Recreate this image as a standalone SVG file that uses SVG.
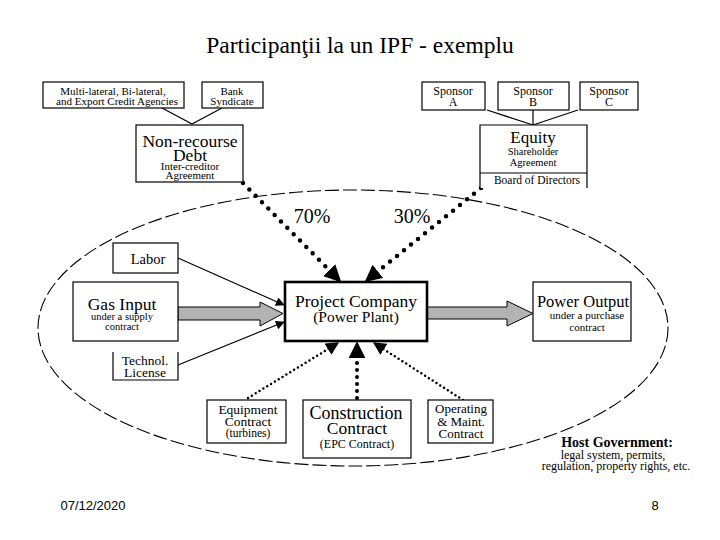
<svg xmlns="http://www.w3.org/2000/svg" width="720" height="540" viewBox="0 0 720 540">
<style>
text{font-family:"Liberation Serif","Times New Roman",serif;fill:#000;text-anchor:middle}
.box{fill:#fff;stroke:#000;stroke-width:1.2}
.thick{fill:#fff;stroke:#000;stroke-width:2.6}
.ln{fill:none;stroke:#000;stroke-width:1.2}
.dotbig{fill:none;stroke:#000;stroke-width:4.5;stroke-linecap:round;stroke-dasharray:0 9}
.dotmid{fill:none;stroke:#000;stroke-width:4;stroke-linecap:round;stroke-dasharray:0 7}
.dotsm{fill:none;stroke:#000;stroke-width:2.5;stroke-linecap:round;stroke-dasharray:0 4.5}
.fat{fill:#b3b3b3;stroke:#000;stroke-width:1}
.big{font-size:17.5px}
.sm{font-size:11px}
.foot{font-family:"Liberation Sans",Arial,sans-serif;font-size:13px}
</style>
<defs>
<marker id="hBig" viewBox="0 0 10 10" refX="9" refY="5" markerWidth="17" markerHeight="17" markerUnits="userSpaceOnUse" orient="auto"><path d="M0,0 L10,5 L0,10 z" fill="#000"/></marker>
<marker id="hMid" viewBox="0 0 10 10" refX="9" refY="5" markerWidth="13" markerHeight="13" markerUnits="userSpaceOnUse" orient="auto"><path d="M0,0 L10,5 L0,10 z" fill="#000"/></marker>
<marker id="hSm" viewBox="0 0 10 10" refX="9" refY="5" markerWidth="10" markerHeight="9" markerUnits="userSpaceOnUse" orient="auto"><path d="M0,0 L10,5 L0,10 z" fill="#000"/></marker>
</defs>
<rect width="720" height="540" fill="#fff"/>
<text x="360" y="53" style="font-size:23.5px">Participanţii la un IPF - exemplu</text>

<g id="host-government">
<ellipse cx="353" cy="328" rx="315" ry="138" fill="none" stroke="#000" stroke-width="1.1" stroke-dasharray="14 4"/>
<text x="617" y="447" style="font-size:14px;font-weight:bold">Host Government:</text>
<text x="613" y="459" style="font-size:12px">legal system, permits,</text>
<text x="616" y="470" style="font-size:12px">regulation, property rights, etc.</text>
</g>

<g id="connectors">
<line class="ln" x1="162" y1="108" x2="192" y2="124"/>
<line class="ln" x1="222" y1="108" x2="192" y2="124"/>
<line class="ln" x1="487" y1="110" x2="533" y2="125"/>
<line class="ln" x1="533" y1="110" x2="533" y2="125"/>
<line class="ln" x1="578" y1="110" x2="533" y2="125"/>
<line class="dotbig" x1="243" y1="183" x2="340" y2="281" marker-end="url(#hBig)"/>
<line class="dotbig" x1="481" y1="188" x2="366" y2="281" marker-end="url(#hBig)"/>
<line class="ln" x1="178" y1="258" x2="284" y2="305" marker-end="url(#hSm)"/>
<line class="ln" x1="178" y1="365" x2="284" y2="322" marker-end="url(#hSm)"/>
<polygon class="fat" points="178,307 260,307 260,302 283,313.5 260,326 260,320 178,320"/>
<polygon class="fat" points="427,307 507,307 507,301 533,313.5 507,326 507,319 427,319"/>
<line class="dotsm" x1="248" y1="398" x2="338" y2="343" marker-end="url(#hMid)"/>
<line class="dotmid" x1="357" y1="398" x2="357" y2="343" marker-end="url(#hBig)"/>
<line class="dotsm" x1="463" y1="400" x2="374" y2="343" marker-end="url(#hMid)"/>
<text x="312" y="223" style="font-size:20px">70%</text>
<text x="412" y="223" style="font-size:20px">30%</text>
</g>

<g id="agencies">
<rect class="box" x="43" y="82" width="141" height="26"/>
<text x="113" y="94.5" class="sm">Multi-lateral, Bi-lateral,</text>
<text x="117" y="105" class="sm">and Export Credit Agencies</text>
</g>
<g id="bank-syndicate">
<rect class="box" x="202" y="82" width="61" height="26"/>
<text x="232" y="94.5" class="sm">Bank</text>
<text x="232" y="105" class="sm">Syndicate</text>
</g>
<g id="debt">
<rect class="box" x="136" y="125" width="107" height="57"/>
<text x="190" y="147" class="big">Non-recourse</text>
<text x="190" y="161" class="big">Debt</text>
<text x="190" y="170" style="font-size:11px">Inter-creditor</text>
<text x="190" y="179" style="font-size:11px">Agreement</text>
</g>
<g id="sponsor-a">
<rect class="box" x="422" y="82" width="63" height="28"/>
<text x="453" y="95" style="font-size:12px">Sponsor</text>
<text x="453" y="106" style="font-size:12px">A</text>
</g>
<g id="sponsor-b">
<rect class="box" x="498" y="82" width="71" height="28"/>
<text x="533" y="95" style="font-size:12px">Sponsor</text>
<text x="533" y="106" style="font-size:12px">B</text>
</g>
<g id="sponsor-c">
<rect class="box" x="580" y="82" width="58" height="28"/>
<text x="609" y="95" style="font-size:12px">Sponsor</text>
<text x="609" y="106" style="font-size:12px">C</text>
</g>
<g id="equity">
<rect x="480" y="125" width="107" height="63" fill="#fff"/>
<path class="ln" d="M480,188 V125 H587 V188 M480,173 H587"/>
<text x="533" y="143" style="font-size:17px">Equity</text>
<text x="533" y="155" style="font-size:10.5px">Shareholder</text>
<text x="533" y="166" style="font-size:10.5px">Agreement</text>
<text x="537" y="184" style="font-size:11.5px">Board of Directors</text>
</g>
<g id="labor">
<rect class="box" x="113" y="243" width="65" height="30"/>
<text x="148" y="264" style="font-size:14.5px">Labor</text>
</g>
<g id="gas-input">
<rect class="box" x="73" y="282" width="105" height="59"/>
<text x="122" y="310" class="big">Gas Input</text>
<text x="122" y="320" style="font-size:10.5px">under a supply</text>
<text x="122" y="330" style="font-size:10.5px">contract</text>
</g>
<g id="technol-license">
<rect x="113" y="352" width="65" height="28" fill="#fff"/>
<path class="ln" d="M113,352 V380 H178 V352"/>
<text x="145" y="365" style="font-size:13.5px">Technol.</text>
<text x="145" y="377" style="font-size:13.5px">License</text>
</g>
<g id="project-company">
<rect class="thick" x="285" y="282" width="142" height="59"/>
<text x="356" y="307" class="big">Project Company</text>
<text x="356" y="322" style="font-size:15.5px">(Power Plant)</text>
</g>
<g id="power-output">
<rect class="box" x="533" y="282" width="98" height="59"/>
<text x="583" y="307" style="font-size:16.5px">Power Output</text>
<text x="587" y="319" style="font-size:11px">under a purchase</text>
<text x="587" y="331" style="font-size:11px">contract</text>
</g>
<g id="equipment-contract">
<rect class="box" x="207" y="400" width="79" height="43"/>
<text x="248" y="414" style="font-size:13.5px">Equipment</text>
<text x="248" y="426" style="font-size:13.5px">Contract</text>
<text x="248" y="437" style="font-size:11.5px">(turbines)</text>
</g>
<g id="construction-contract">
<rect class="box" x="303" y="400" width="108" height="58"/>
<text x="356" y="419" style="font-size:18px">Construction</text>
<text x="357" y="434" class="big">Contract</text>
<text x="357" y="448" style="font-size:12px">(EPC Contract)</text>
</g>
<g id="om-contract">
<rect class="box" x="428" y="400" width="65" height="43"/>
<text x="461" y="413" style="font-size:13px">Operating</text>
<text x="461" y="426" style="font-size:13px">&amp; Maint.</text>
<text x="461" y="438" style="font-size:13px">Contract</text>
</g>

<text x="93" y="510" class="foot">07/12/2020</text>
<text x="655" y="510" class="foot">8</text>
</svg>
